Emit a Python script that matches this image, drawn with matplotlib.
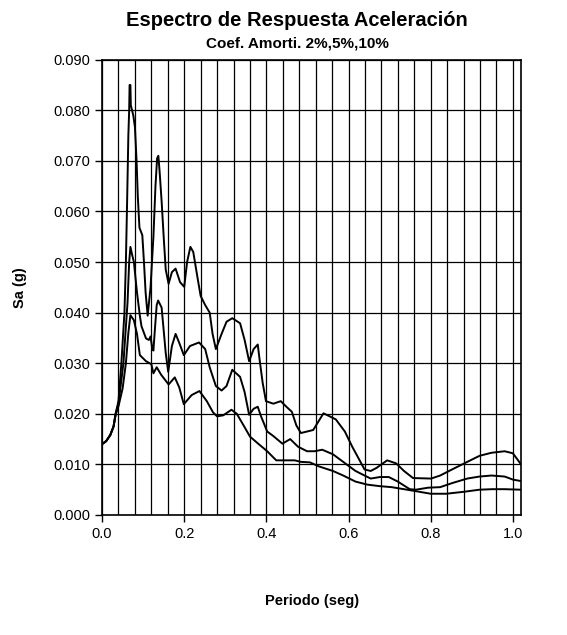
import numpy as np
import matplotlib.pyplot as plt
from matplotlib.ticker import MultipleLocator, FormatStrFormatter

plt.rcParams['font.family'] = ['Liberation Sans', 'DejaVu Sans']

# periodo (seg) y Sa (g), amortiguamiento 2%
T_2 = [0, 0.01, 0.02, 0.028, 0.033, 0.04, 0.047, 0.0545, 0.058, 0.061, 0.064, 0.066, 0.067, 0.069,
       0.070, 0.076, 0.080, 0.084, 0.087, 0.091, 0.098, 0.102, 0.106, 0.111, 0.118, 0.125, 0.13,
       0.134, 0.137, 0.14, 0.145, 0.15, 0.155, 0.162, 0.17, 0.179, 0.19, 0.2, 0.207, 0.215, 0.222,
       0.233, 0.24, 0.251, 0.262, 0.269, 0.277, 0.291, 0.303, 0.317, 0.336, 0.347, 0.358, 0.369,
       0.379, 0.384, 0.391, 0.399, 0.417, 0.435, 0.45, 0.462, 0.473, 0.484, 0.514, 0.539, 0.569,
       0.591, 0.609, 0.639, 0.654, 0.668, 0.694, 0.716, 0.735, 0.757, 0.801, 0.823, 0.852, 0.889,
       0.919, 0.948, 0.98, 1.0, 1.02]
Sa_2 = [0.0140, 0.0146, 0.0158, 0.0175, 0.0200, 0.0225, 0.030, 0.040, 0.050, 0.062, 0.075, 0.080,
        0.085, 0.085, 0.081, 0.079, 0.0767, 0.070, 0.063, 0.0568, 0.0553, 0.050, 0.044, 0.0394,
        0.045, 0.055, 0.065, 0.0705, 0.071, 0.068, 0.062, 0.055, 0.0485, 0.0457, 0.048, 0.0487,
        0.046, 0.0451, 0.050, 0.053, 0.052, 0.0466, 0.0433, 0.0415, 0.040, 0.0358, 0.0328, 0.0358,
        0.0382, 0.0389, 0.0379, 0.0346, 0.0304, 0.0328, 0.0337, 0.0304, 0.0261, 0.0225, 0.022,
        0.0225, 0.0213, 0.0204, 0.0177, 0.0162, 0.0168, 0.0201, 0.0189, 0.0165, 0.0135, 0.0090,
        0.0087, 0.0093, 0.0108, 0.0102, 0.0087, 0.0073, 0.0072, 0.0078, 0.0090, 0.0105, 0.0117,
        0.0123, 0.0126, 0.0122, 0.0100]

# amortiguamiento 5%
T_5 = [0, 0.01, 0.02, 0.028, 0.033, 0.04, 0.052, 0.062, 0.066, 0.069, 0.073, 0.0775, 0.085, 0.092,
       0.096, 0.107, 0.114, 0.118, 0.122, 0.125, 0.128, 0.133, 0.1365, 0.145, 0.155, 0.161, 0.170,
       0.179, 0.188, 0.199, 0.214, 0.236, 0.251, 0.262, 0.277, 0.291, 0.303, 0.317, 0.336, 0.347,
       0.358, 0.369, 0.379, 0.387, 0.402, 0.417, 0.439, 0.458, 0.477, 0.499, 0.517, 0.536, 0.562,
       0.587, 0.617, 0.639, 0.654, 0.676, 0.698, 0.72, 0.749, 0.764, 0.794, 0.823, 0.852, 0.889,
       0.919, 0.948, 0.98, 1.0, 1.02]
Sa_5 = [0.0140, 0.0146, 0.0158, 0.0175, 0.0200, 0.022, 0.030, 0.042, 0.050, 0.053, 0.0515, 0.050,
        0.044, 0.0394, 0.0373, 0.0349, 0.0346, 0.0353, 0.033, 0.0325, 0.036, 0.0415, 0.0424, 0.041,
        0.032, 0.0283, 0.0334, 0.0358, 0.034, 0.0316, 0.0334, 0.0341, 0.0328, 0.0292, 0.0255,
        0.0246, 0.0255, 0.0287, 0.0273, 0.0243, 0.0198, 0.021, 0.0214, 0.0195, 0.0165, 0.0156,
        0.0141, 0.015, 0.0135, 0.0126, 0.0126, 0.0129, 0.012, 0.0105, 0.0087, 0.0078, 0.0072,
        0.0075, 0.0075, 0.0066, 0.0051, 0.005, 0.0054, 0.0055, 0.0063, 0.0072, 0.0076, 0.0078,
        0.0076, 0.0070, 0.0067]

# amortiguamiento 10%
T_10 = [0, 0.01, 0.02, 0.028, 0.033, 0.04, 0.05, 0.058, 0.064, 0.069, 0.0775, 0.085, 0.092, 0.107,
        0.12, 0.125, 0.133, 0.144, 0.162, 0.177, 0.188, 0.199, 0.218, 0.237, 0.255, 0.27, 0.28,
        0.295, 0.315, 0.328, 0.346, 0.36, 0.38, 0.402, 0.424, 0.446, 0.469, 0.484, 0.506, 0.528,
        0.562, 0.587, 0.617, 0.646, 0.676, 0.705, 0.735, 0.757, 0.80, 0.838, 0.882, 0.919, 0.95,
        0.98, 1.02]
Sa_10 = [0.0140, 0.0146, 0.0158, 0.0175, 0.0198, 0.0215, 0.025, 0.030, 0.036, 0.0395, 0.0385,
         0.0358, 0.0316, 0.0304, 0.0298, 0.028, 0.0292, 0.0277, 0.0258, 0.0272, 0.0252, 0.0219,
         0.0237, 0.0245, 0.0225, 0.0203, 0.0195, 0.0197, 0.0208, 0.0200, 0.0175, 0.0155, 0.0141,
         0.0126, 0.0108, 0.0108, 0.0108, 0.0105, 0.0104, 0.0096, 0.0087, 0.0078, 0.0066, 0.006,
         0.0057, 0.0055, 0.0051, 0.0048, 0.0042, 0.0042, 0.0046, 0.005, 0.0051, 0.0051, 0.0050]

fig = plt.figure(figsize=(5.67, 6.35), dpi=100)
ax = fig.add_axes([0.180, 0.189, 0.739, 0.717])

for T, Sa in [(T_2, Sa_2), (T_5, Sa_5), (T_10, Sa_10)]:
    ax.plot(T, Sa, color="black", lw=1.4)

ax.set_xlim(0, 1.02)
ax.set_ylim(0, 0.09)
ax.xaxis.set_major_locator(MultipleLocator(0.2))
ax.xaxis.set_minor_locator(MultipleLocator(0.04))
ax.yaxis.set_major_locator(MultipleLocator(0.01))
ax.xaxis.set_major_formatter(FormatStrFormatter("%.1f"))
ax.yaxis.set_major_formatter(FormatStrFormatter("%.3f"))
ax.grid(True, which="both", axis="x", color="black", lw=0.9)
ax.grid(True, which="major", axis="y", color="black", lw=0.9)
ax.tick_params(which="major", direction="out", length=5, width=1, labelsize=10.5, color="black")
ax.tick_params(which="minor", length=0)
for s in ax.spines.values():
    s.set_linewidth(1.2)

ax.set_xlabel("Periodo (seg)", fontsize=10.5, fontweight="bold", labelpad=38)
ax.set_ylabel("Sa (g)", fontsize=10.5, fontweight="bold", labelpad=19)

fig.text(0.524, 0.968, "Espectro de Respuesta Aceleración", ha="center", va="center",
         fontsize=14.5, fontweight="bold")
fig.text(0.524, 0.932, "Coef. Amorti. 2%,5%,10%", ha="center", va="center",
         fontsize=11, fontweight="bold")

plt.savefig("out.png")
